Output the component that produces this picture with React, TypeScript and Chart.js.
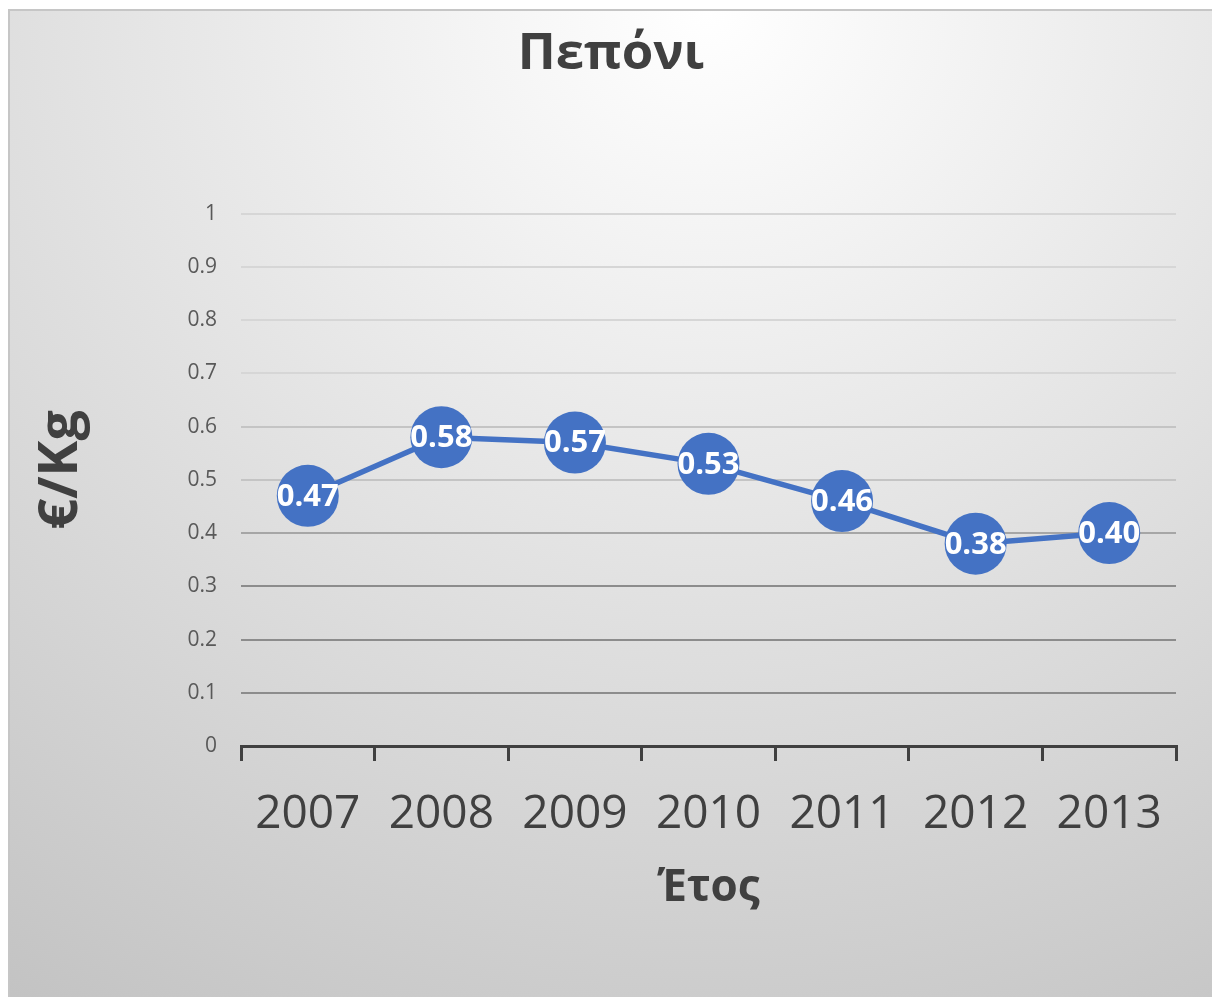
import React, { useEffect, useRef } from "react";
import { Chart, registerables } from "chart.js";

Chart.register(...registerables);

const categories = ["2007", "2008", "2009", "2010", "2011", "2012", "2013"];
const prices = [0.47, 0.58, 0.57, 0.53, 0.46, 0.38, 0.4];
const chartTitle = "Πεπόνι";
const xTitle = "Έτος";
const yTitle = "€/Kg";

const FONT = "'Open Sans', 'Noto Sans', sans-serif";
const BLUE = "#4472C4";

const dataLabels = {
  id: "dataLabels",
  afterDatasetsDraw(chart: any) {
    const { ctx } = chart;
    const meta = chart.getDatasetMeta(0);
    ctx.save();
    ctx.fillStyle = "#ffffff";
    ctx.font = `bold 31px ${FONT}`;
    ctx.textAlign = "center";
    ctx.textBaseline = "middle";
    meta.data.forEach((pt: any, i: number) => {
      const v = chart.data.datasets[0].data[i] as number;
      ctx.fillText(v.toFixed(2), pt.x, pt.y + 1);
    });
    ctx.restore();
  },
};

const yAxisTitle = {
  id: "yAxisTitle",
  afterDraw(chart: any) {
    const { ctx, chartArea } = chart;
    ctx.save();
    ctx.translate(52, (chartArea.top + chartArea.bottom) / 2 - 10);
    ctx.rotate(-Math.PI / 2);
    ctx.fillStyle = "#404040";
    ctx.font = `bold 54px ${FONT}`;
    ctx.textAlign = "center";
    ctx.textBaseline = "middle";
    ctx.fillText(yTitle, 0, 0);
    ctx.restore();
  },
};

export default function App() {
  const ref = useRef<HTMLCanvasElement | null>(null);
  useEffect(() => {
    if (!ref.current) return;
    const chart = new Chart(ref.current, {
      type: "line",
      data: {
        labels: categories,
        datasets: [
          {
            data: prices,
            borderColor: BLUE,
            backgroundColor: BLUE,
            borderWidth: 5.5,
            pointRadius: 31,
            pointHoverRadius: 31,
            pointBackgroundColor: BLUE,
            pointBorderColor: BLUE,
            pointBorderWidth: 0,
            tension: 0,
          },
        ],
      },
      options: {
        animation: false,
        responsive: false,
        maintainAspectRatio: false,
        layout: { padding: 0 },
        plugins: {
          legend: { display: false },
          tooltip: { enabled: false },
          title: {
            display: true,
            text: chartTitle,
            color: "#404040",
            font: { family: FONT, size: 51, weight: "bold", lineHeight: 1.2 },
            padding: { top: 13, bottom: 128.4 },
          },
        },
        scales: {
          x: {
            type: "category",
            offset: true,
            grid: {
              display: true,
              offset: true,
              drawOnChartArea: false,
              drawTicks: true,
              tickLength: 15,
              color: "#404040",
              lineWidth: 3,
            },
            border: { display: true, color: "#404040", width: 3 },
            ticks: {
              color: "#404040",
              font: { family: FONT, size: 46, lineHeight: 1.2 },
              padding: 26,
              maxRotation: 0,
              autoSkip: false,
            },
            title: {
              display: true,
              text: xTitle,
              color: "#404040",
              font: { family: FONT, size: 44, weight: "bold", lineHeight: 1.2 },
              padding: { top: 0, bottom: 82.6 },
            },
            afterFit(scale: any) {
              scale.height = 251;
            },
          },
          y: {
            min: 0,
            max: 1,
            border: { display: false },
            grid: {
              drawTicks: false,
              lineWidth: 2,
              color: (c: any) => {
                const v = c.tick ? c.tick.value : 0;
                if (v >= 0.65) return "#d6d6d6";
                if (v >= 0.45) return "#c4c4c4";
                if (v >= 0.35) return "#a6a6a6";
                return "#8c8c8c";
              },
            },
            ticks: {
              stepSize: 0.1,
              color: "#595959",
              padding: 24,
              font: { family: FONT, size: 21 },
              callback: (v: any) => String(Math.round(Number(v) * 10) / 10),
            },
            afterFit(scale: any) {
              scale.width = 231;
            },
          },
          yRight: {
            position: "right",
            display: true,
            min: 0,
            max: 1,
            border: { display: false },
            grid: { display: false, drawTicks: false },
            ticks: { display: false },
            afterFit(scale: any) {
              scale.width = 36;
            },
          },
        },
      },
      plugins: [dataLabels, yAxisTitle],
    } as any);
    return () => chart.destroy();
  }, []);

  return (
    <div
      style={{
        position: "fixed",
        left: 8,
        top: 9,
        width: 1206,
        height: 990,
        boxSizing: "border-box",
        border: "2px solid #c6c6c6",
        background:
          "radial-gradient(ellipse 110% 120% at 58% 0%, #ffffff 0%, #e4e4e4 45%, #c2c2c2 100%)",
        overflow: "hidden",
      }}
    >
      <canvas ref={ref} width={1202} height={986} style={{ display: "block" }} />
    </div>
  );
}
